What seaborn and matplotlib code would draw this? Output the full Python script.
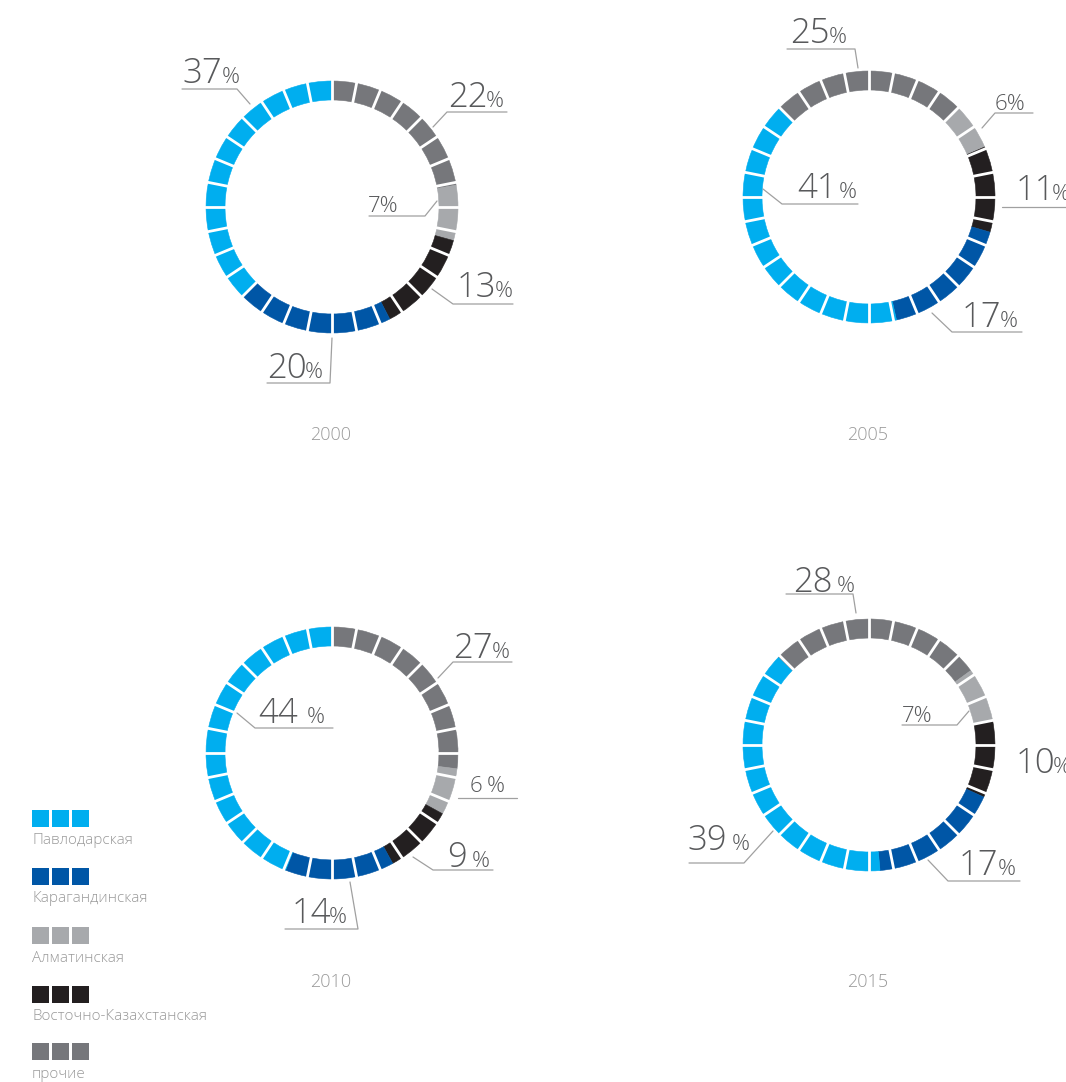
import numpy as np
import matplotlib
matplotlib.use('Agg')
import matplotlib.pyplot as plt
from matplotlib.patches import Rectangle
import seaborn as sns

sns.set_theme(style='white')
plt.rcParams['font.family'] = ['Open Sans', 'DejaVu Sans']

# --- данные ---
regions = ['Павлодарская', 'Карагандинская', 'Алматинская', 'Восточно-Казахстанская', 'прочие']
years = ['2000', '2005', '2010', '2015']
share_2000 = [37, 20, 7, 13, 22]
share_2005 = [41, 17, 6, 11, 25]
share_2010 = [44, 14, 6, 9, 27]
share_2015 = [39, 17, 7, 10, 28]
shares = [share_2000, share_2005, share_2010, share_2015]

palette = sns.color_palette(['#00AEEF', '#0056A6', '#A7A9AC', '#231F20', '#76777B'])

# порядок секторов по часовой стрелке от начала кольца
ring_order = [4, 2, 3, 1, 0]

# --- разметка (пиксели, y сверху вниз) ---
W, H = 1066, 1082
centers = [(332, 207), (869, 197), (332, 753), (869, 745)]
start_deg = [0, -45, 0, -46]
R, RW = 126, 19
n_seg = 32

big, small, pct_fs = 25, 16, 16
# (x, baseline, x для "%" или None, размер, выноска)
labels_layout = [
    [(182, 83, 222, big, [(182, 89), (237, 89), (250, 104)]),
     (267, 378, 305, big, [(267, 383), (330, 383), (332, 338)]),
     (368, 212, None, small, [(369, 216), (425, 216), (437, 201)]),
     (457, 297, 495, big, [(513, 304), (453, 304), (432, 289)]),
     (448, 107, 486, big, [(507, 112), (447, 112), (433, 127)])],
    [(797, 198, 839, big, [(858, 204), (782, 204), (763, 189)]),
     (962, 327, 1000, big, [(1022, 332), (952, 332), (932, 313)]),
     (995, 110, None, small, [(1033, 113), (995, 113), (982, 128)]),
     (1016, 200, 1052, big, [(1002, 207), (1066, 207)]),
     (790, 43, 829, big, [(787, 49), (855, 49), (858, 68)])],
    [(258, 723, 307, big, [(333, 728), (255, 728), (237, 713)]),
     (292, 923, 329, big, [(285, 929), (358, 929), (350, 882)]),
     (470, 792, 487, small, [(458, 798), (517, 798)]),
     (447, 867, 472, big, [(493, 870), (433, 870), (413, 857)]),
     (453, 658, 492, big, [(512, 662), (453, 662), (438, 678)])],
    [(687, 850, 732, big, [(689, 863), (744, 863), (773, 831)]),
     (959, 875, 998, big, [(1020, 881), (948, 881), (928, 860)]),
     (902, 722, None, small, [(902, 725), (957, 725), (969, 711)]),
     (1016, 773, 1053, big, []),
     (793, 592, 837, big, [(786, 594), (853, 594), (856, 613)])],
]

num_color = '#58595B'
line_color = '#A0A0A0'

fig = plt.figure(figsize=(W / 100, H / 100), dpi=100)
ax = fig.add_axes([0, 0, 1, 1])

for i, vals in enumerate(shares):
    cx, cy = centers[i]
    cy = H - cy
    ordered = [vals[k] for k in ring_order]
    cols = [palette[k] for k in ring_order]
    wedges, _ = ax.pie(ordered, colors=cols, startangle=90 - start_deg[i],
                       counterclock=False, radius=R, center=(cx, cy),
                       wedgeprops=dict(width=RW, linewidth=0.4))
    for w in wedges:
        w.set_edgecolor(w.get_facecolor())
    # белые разделители сегментов
    for k in range(n_seg):
        a = np.deg2rad(k * 360 / n_seg)
        dx, dy = np.sin(a), np.cos(a)
        ax.plot([cx + (R - RW - 3) * dx, cx + (R + 3) * dx],
                [cy + (R - RW - 3) * dy, cy + (R + 3) * dy],
                color='white', lw=2.0, solid_capstyle='butt')
    # подписи
    for j, v in enumerate(vals):
        x, y, px, fs, line = labels_layout[i][j]
        if px is None:
            ax.text(x, H - y, f'{v}%', fontsize=fs, color=num_color,
                    ha='left', va='baseline', fontweight='light')
        else:
            ax.text(x, H - y, f'{v}', fontsize=fs, color=num_color,
                    ha='left', va='baseline', fontweight='light')
            ax.text(px, H - y, '%', fontsize=pct_fs if fs == big else fs,
                    color=num_color, ha='left', va='baseline', fontweight='light')
        if line:
            xs, ys = zip(*line)
            ax.plot(xs, [H - t for t in ys], color=line_color, lw=0.9)
    ax.text(centers[i][0] - 1, H - (435 if i < 2 else 982), years[i], fontsize=13,
            color='#9A9A9A', ha='center', va='center', fontweight='light')

# легенда
leg_top = [810, 868, 927, 986, 1043]
for j, name in enumerate(regions):
    y0 = leg_top[j]
    for s in range(3):
        ax.add_patch(Rectangle((32 + s * 20, H - y0 - 17), 17, 17,
                               color=palette[j], lw=0))
    ax.text(32, H - (y0 + 31), name, fontsize=11, color='#9A9A9A',
            ha='left', va='center', fontweight='light')

ax.set_xlim(0, W)
ax.set_ylim(0, H)
ax.set_aspect('equal')
ax.axis('off')

fig.savefig('out.png', dpi=100, facecolor='white')
